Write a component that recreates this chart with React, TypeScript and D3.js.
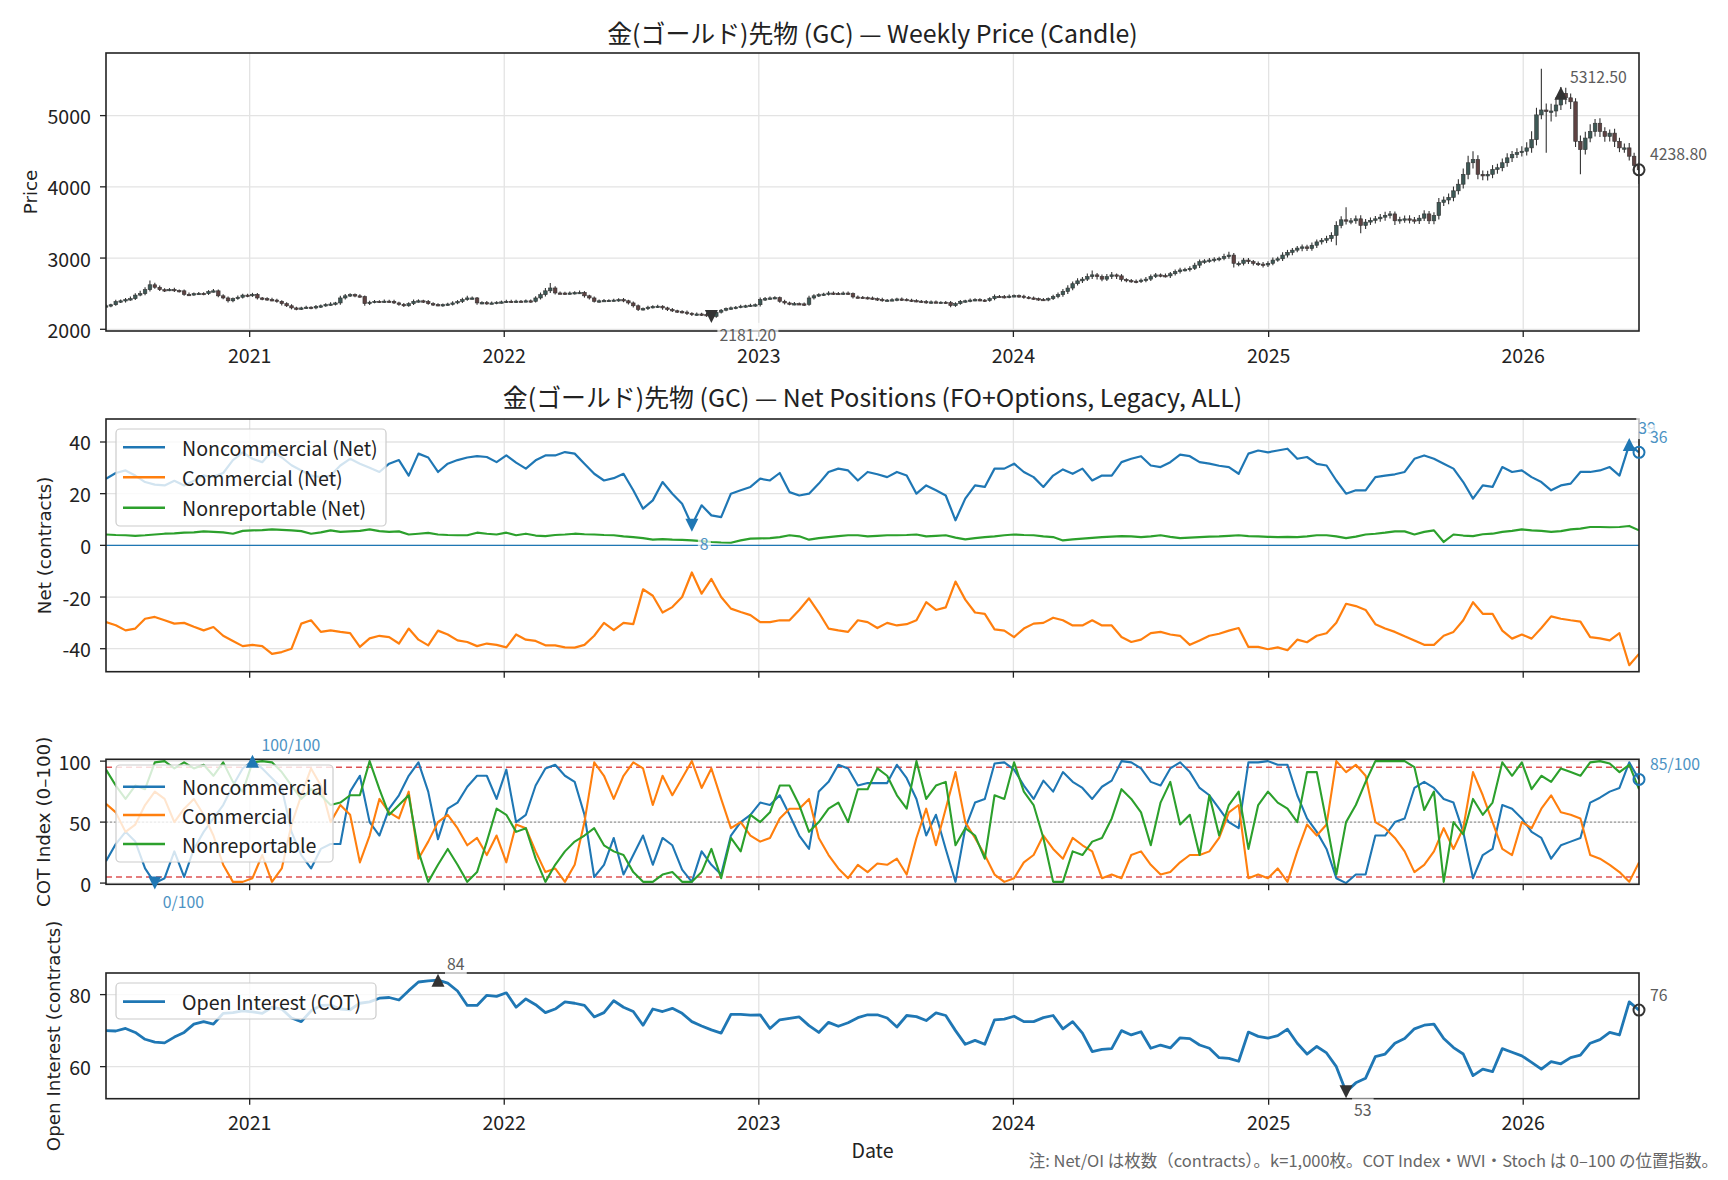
import React, { useRef, useEffect } from 'react';
import * as d3 from 'd3';

// --- DATA ---
// weekly series start on this COT report date
const START = new Date(2020, 5, 9);

// weekly closing price (315 weeks)
const priceClose = [
  2330, 2345, 2390, 2400, 2417, 2430, 2480, 2500, 2556, 2625,
  2590, 2556, 2550, 2560, 2545, 2540, 2490, 2486, 2500, 2505,
  2500, 2530, 2540, 2470, 2440, 2400, 2430, 2450, 2480, 2470,
  2490, 2440, 2430, 2417, 2410, 2393, 2360, 2330, 2300, 2290,
  2300, 2310, 2300, 2320, 2330, 2347, 2355, 2370, 2440, 2470,
  2486, 2470, 2460, 2360, 2380, 2393, 2390, 2395, 2393, 2370,
  2350, 2330, 2360, 2393, 2400, 2390, 2360, 2347, 2340, 2347,
  2355, 2370, 2390, 2417, 2440, 2440, 2370, 2375, 2365, 2370,
  2380, 2385, 2393, 2390, 2395, 2393, 2400, 2393, 2440, 2486,
  2540, 2580, 2510, 2509, 2505, 2510, 2515, 2518, 2470, 2440,
  2393, 2400, 2405, 2407, 2410, 2417, 2400, 2370, 2330, 2278,
  2290, 2310, 2320, 2324, 2300, 2278, 2260, 2250, 2241, 2225,
  2208, 2215, 2208, 2200, 2181.2, 2240, 2268, 2290, 2301, 2310,
  2324, 2330, 2338, 2345, 2417, 2430, 2440, 2445, 2393, 2370,
  2357, 2360, 2357, 2350, 2440, 2470, 2486, 2495, 2509, 2505,
  2500, 2509, 2500, 2454, 2450, 2445, 2440, 2430, 2420, 2407,
  2410, 2415, 2426, 2420, 2410, 2403, 2395, 2390, 2380, 2385,
  2380, 2380, 2375, 2333, 2360, 2393, 2400, 2410, 2417, 2410,
  2403, 2430, 2463, 2460, 2454, 2465, 2472, 2465, 2450, 2440,
  2430, 2420, 2417, 2430, 2460, 2486, 2530, 2579, 2640, 2680,
  2704, 2740, 2764, 2740, 2704, 2740, 2764, 2750, 2700, 2685,
  2675, 2671, 2690, 2704, 2740, 2764, 2755, 2750, 2780, 2810,
  2833, 2840, 2856, 2900, 2949, 2960, 2972, 2985, 2995, 3020,
  3042, 2926, 2926, 2972, 2950, 2926, 2915, 2903, 2926, 2972,
  2990, 3042, 3080, 3111, 3140, 3157, 3134, 3180, 3227, 3250,
  3273, 3319, 3458, 3537, 3520, 3523, 3551, 3458, 3505, 3530,
  3551, 3574, 3600, 3620, 3523, 3540, 3551, 3537, 3523, 3560,
  3620, 3523, 3597, 3782, 3815, 3852, 3944, 4037, 4176, 4338,
  4384, 4176, 4153, 4176, 4245, 4268, 4338, 4407, 4454, 4480,
  4500, 4547, 4662, 5010, 5079, 5056, 5065, 5149, 5312.5, 5250,
  5194, 4639, 4523, 4685, 4778, 4893, 4778, 4708, 4754, 4639,
  4547, 4547, 4430, 4300, 4238.8,
];

// upper / lower shadow beyond the candle body, in price units
const wickUp = [
  20, 15, 25, 18, 22, 30, 25, 40, 35, 60,
  30, 25, 20, 18, 22, 15, 20, 25, 18, 20,
  15, 20, 25, 18, 22, 20, 15, 25, 20, 18,
  22, 18, 15, 20, 25, 18, 15, 20, 22, 15,
  18, 20, 15, 22, 18, 20, 25, 15, 30, 25,
  20, 18, 22, 15, 20, 18, 15, 22, 18, 20,
  15, 20, 18, 25, 20, 15, 22, 18, 20, 15,
  18, 22, 20, 25, 30, 20, 15, 18, 22, 20,
  15, 18, 20, 22, 18, 15, 20, 18, 25, 30,
  40, 70, 25, 20, 18, 22, 20, 25, 18, 15,
  20, 18, 22, 15, 20, 18, 22, 15, 20, 18,
  15, 20, 18, 22, 15, 18, 20, 15, 18, 22,
  15, 20, 18, 22, 25, 20, 18, 15, 20, 18,
  22, 15, 20, 18, 30, 25, 20, 18, 15, 20,
  18, 22, 15, 20, 30, 22, 20, 18, 25, 20,
  18, 20, 22, 15, 20, 18, 15, 20, 18, 22,
  15, 20, 18, 22, 15, 18, 20, 15, 22, 18,
  20, 15, 18, 22, 20, 18, 15, 22, 18, 20,
  15, 20, 25, 18, 20, 22, 18, 15, 20, 18,
  22, 15, 20, 18, 25, 30, 35, 40, 30, 35,
  30, 45, 60, 25, 30, 35, 40, 20, 25, 18,
  20, 25, 22, 30, 28, 25, 20, 30, 25, 28,
  30, 25, 28, 35, 30, 25, 30, 28, 25, 40,
  45, 30, 25, 30, 28, 22, 25, 30, 28, 35,
  30, 40, 35, 30, 28, 35, 30, 40, 35, 30,
  40, 45, 60, 50, 176, 40, 45, 50, 45, 40,
  40, 45, 50, 40, 35, 40, 45, 50, 40, 45,
  50, 40, 45, 60, 50, 55, 60, 70, 80, 100,
  116, 60, 55, 50, 60, 55, 60, 65, 50, 60,
  70, 80, 120, 100, 578, 90, 100, 110, 90, 80,
  60, 50, 80, 90, 100, 60, 70, 60, 50, 60,
  50, 60, 70, 50, 40,
];

const wickDown = [
  18, 22, 15, 20, 25, 18, 20, 15, 22, 25,
  20, 18, 25, 15, 20, 22, 18, 20, 15, 18,
  22, 18, 15, 20, 18, 25, 20, 15, 18, 20,
  15, 20, 22, 18, 15, 20, 25, 18, 20, 22,
  20, 15, 18, 20, 22, 15, 18, 20, 25, 20,
  15, 20, 18, 30, 20, 15, 22, 18, 20, 15,
  20, 18, 15, 20, 18, 22, 15, 20, 18, 22,
  15, 20, 18, 22, 15, 20, 25, 18, 20, 15,
  20, 18, 15, 20, 22, 18, 15, 20, 18, 22,
  25, 30, 20, 18, 22, 15, 20, 18, 25, 20,
  18, 22, 15, 20, 18, 25, 20, 22, 25, 20,
  15, 20, 18, 22, 25, 20, 18, 22, 20, 25,
  20, 18, 22, 25, 30, 20, 18, 15, 20, 18,
  15, 20, 18, 22, 25, 20, 15, 18, 20, 22,
  20, 18, 15, 22, 18, 20, 15, 18, 20, 22,
  15, 18, 20, 22, 18, 15, 20, 18, 22, 20,
  18, 15, 20, 22, 18, 20, 15, 18, 22, 20,
  15, 18, 20, 25, 18, 15, 20, 22, 18, 15,
  20, 18, 22, 15, 20, 18, 15, 22, 20, 18,
  15, 20, 18, 22, 20, 25, 30, 35, 30, 25,
  30, 25, 35, 40, 30, 25, 35, 45, 30, 25,
  20, 25, 22, 30, 25, 20, 25, 22, 30, 25,
  28, 22, 30, 25, 40, 30, 25, 30, 28, 25,
  30, 60, 40, 30, 35, 30, 25, 35, 30, 28,
  25, 30, 35, 40, 30, 45, 35, 30, 40, 35,
  40, 45, 139, 40, 50, 45, 40, 111, 50, 40,
  45, 40, 50, 45, 60, 40, 45, 50, 40, 45,
  40, 45, 50, 55, 50, 60, 55, 50, 60, 70,
  80, 70, 60, 65, 55, 60, 50, 55, 60, 50,
  55, 60, 70, 80, 60, 579, 139, 80, 70, 90,
  100, 80, 347, 70, 60, 70, 80, 75, 70, 80,
  60, 70, 60, 120, 200,
];

// net positions, thousand contracts, every second week (158 points)
const netNoncomm = [
  25.8, 28, 29, 27, 24.5, 23.5, 23.2, 25, 23.2, 25,
  27, 26.5, 28, 33, 36, 33.5, 32.2, 36.5, 34, 31,
  29, 27, 26.4, 27, 30.9, 33.5, 31.6, 30, 28.4, 31.6,
  33, 27, 35.5, 34, 28.4, 31.6, 33, 34, 34.5, 34.2,
  32.2, 34.8, 32, 29.7, 32.9, 34.8, 34.8, 36.1, 35.5, 31.6,
  27.7, 25.1, 26, 27.7, 21.3, 14.2, 17.4, 24.5, 20, 16.1,
  7.8, 15.5, 11.6, 10.9, 20, 21.3, 22.6, 25.8, 25.1, 28,
  20.6, 19.3, 20, 23.9, 28.4, 29.7, 29, 25.1, 28.4, 27.5,
  26.4, 28.4, 27, 20, 23.2, 21.3, 19.3, 9.7, 18.1, 23.2,
  22.6, 29.7, 29.7, 31.6, 28.4, 26.4, 22.6, 27, 29.4, 27.7,
  29.7, 25.1, 27, 27, 32.2, 33.5, 34.5, 30.9, 30.3, 32.2,
  35.1, 34.5, 32.2, 31.6, 30.8, 30.3, 27.7, 35.5, 36.7, 36,
  36.7, 37.4, 33.5, 34.2, 31.5, 30.9, 25.1, 20, 21.3, 21.3,
  26.4, 27, 27.5, 28.4, 33.5, 34.8, 33.5, 31.6, 29.7, 24.5,
  18.1, 23.2, 22.6, 30.3, 28.4, 29, 26.4, 24.5, 21.3, 23.2,
  23.9, 28.4, 28.4, 29, 30.3, 27, 39, 36,
];

const netComm = [
  -29.7, -30.9, -32.9, -32.2, -28.4, -27.7, -29, -30.3, -30, -31.5,
  -32.9, -31.6, -35, -37, -39, -38.5, -39, -42, -41.3, -40,
  -30.3, -29, -33.5, -32.9, -33.5, -34, -39.3, -36, -35, -35.5,
  -38, -32.2, -36.5, -38.7, -33, -34.5, -36.8, -37.4, -39, -38,
  -38.5, -39.5, -34.5, -36.5, -37, -38.7, -38.7, -39.5, -39.6, -38.5,
  -35, -30, -32.8, -30, -30.5, -17, -19.5, -26, -23.9, -20,
  -10.5, -18.7, -13, -20, -24.5, -25.8, -27, -29.7, -29.7, -29,
  -29, -25, -20.5, -26, -32.2, -32.9, -33.5, -29, -29.7, -32,
  -30, -31, -30.5, -29, -22, -25, -24, -14, -21, -26,
  -26.5, -32.5, -33, -35.5, -32.2, -30.3, -30, -28, -29, -31,
  -31, -29, -31, -31, -35.5, -37.4, -36.5, -34, -33.5, -34.5,
  -35, -38.5, -36.8, -35, -34.2, -33, -32, -39.3, -39.3, -40.2,
  -39.5, -40.6, -36.5, -37.5, -35, -34, -30, -22.6, -23.5, -25,
  -30.5, -32.2, -33.5, -35.2, -36.8, -38.5, -38.5, -35, -33.5, -29,
  -22, -26.5, -26.5, -33, -36.1, -34.5, -36.1, -32, -27.5, -28.4,
  -29, -29.5, -35.5, -36, -36.8, -34, -46.4, -42,
];

const netNonrep = [
  4.2, 4.0, 3.9, 3.7, 3.9, 4.2, 4.5, 4.6, 4.9, 5.0,
  5.4, 5.2, 5.0, 4.5, 5.6, 5.8, 5.9, 6.2, 6.0, 5.8,
  5.5, 4.5, 5.0, 5.8, 5.2, 5.4, 5.6, 6.2, 5.5, 5.2,
  5.4, 4.2, 4.5, 4.8, 4.2, 4.0, 3.9, 3.9, 4.9, 4.5,
  4.2, 4.9, 3.9, 4.5, 3.8, 3.6, 4.0, 4.2, 4.5, 4.3,
  4.2, 4.0, 3.9, 3.5, 3.2, 2.8, 2.2, 2.4, 2.2, 2.1,
  1.9, 1.6, 1.3, 1.1, 1.0, 1.9, 2.6, 2.7, 2.8, 3.2,
  3.9, 3.5, 2.2, 2.8, 3.2, 3.6, 3.9, 3.9, 3.5, 3.7,
  3.9, 3.9, 4.0, 4.2, 3.5, 3.7, 3.9, 3.0, 2.3, 2.8,
  3.2, 3.5, 3.9, 4.2, 4.0, 3.9, 3.5, 3.2, 1.9, 2.3,
  2.6, 2.9, 3.2, 3.4, 3.6, 3.5, 3.2, 3.5, 3.9, 3.3,
  2.8, 3.0, 3.2, 3.4, 3.5, 3.7, 3.9, 3.6, 3.5, 3.3,
  3.2, 3.3, 3.2, 3.5, 3.9, 3.9, 3.5, 2.8, 3.4, 4.2,
  4.5, 4.9, 5.4, 5.4, 4.2, 5.2, 5.8, 1.3, 4.2, 3.8,
  3.6, 4.3, 4.5, 5.2, 5.6, 6.2, 5.8, 5.6, 5.2, 5.5,
  6.2, 6.5, 7.1, 7.1, 7.0, 7.1, 7.5, 5.8,
];

// COT index (0-100), every second week
const cotNoncomm = [
  18, 32, 42, 34, 12, 0, 4, 26, 5, 28,
  42, 53, 64, 80, 94, 100, 94, 86, 78, 42,
  23, 12, 28, 32, 32, 75, 88, 50, 39, 61,
  72, 88, 99, 75, 36, 61, 66, 79, 88, 88,
  69, 93, 50, 56, 80, 94, 97, 88, 83, 56,
  5, 15, 37, 7, 23, 39, 15, 37, 31, 11,
  1, 26, 15, 7, 39, 50, 56, 66, 64, 72,
  56, 39, 28, 75, 83, 97, 94, 80, 82, 82,
  82, 97, 86, 69, 39, 56, 28, 1, 45, 66,
  69, 98, 99, 93, 80, 69, 84, 75, 91, 83,
  78, 69, 79, 84, 100, 99, 94, 83, 80, 94,
  99, 91, 78, 72, 61, 50, 45, 99, 99, 100,
  97, 97, 72, 53, 42, 28, 4, 0, 7, 7,
  39, 39, 50, 53, 78, 83, 78, 69, 66, 42,
  4, 23, 28, 64, 61, 53, 42, 37, 20, 31,
  34, 37, 66, 70, 75, 78, 99, 85,
];

const cotComm = [
  65, 58, 42, 48, 64, 75, 69, 50, 61, 69,
  56, 39, 15, 1, 1, 4, 23, 1, 12, 48,
  72, 94, 80, 50, 64, 56, 17, 39, 69, 58,
  53, 75, 20, 34, 50, 56, 45, 31, 37, 23,
  39, 17, 48, 45, 26, 9, 12, 1, 15, 50,
  99, 88, 69, 88, 99, 94, 64, 88, 72, 86,
  100, 78, 94, 69, 45, 50, 39, 34, 37, 53,
  61, 61, 69, 37, 23, 12, 4, 15, 9, 16,
  15, 20, 7, 37, 61, 31, 61, 91, 50, 37,
  23, 7, 1, 4, 17, 23, 39, 28, 20, 37,
  31, 26, 4, 7, 4, 23, 26, 15, 7, 9,
  17, 23, 23, 26, 37, 58, 64, 4, 7, 4,
  12, 1, 26, 48, 39, 48, 100, 91, 97, 88,
  50, 45, 37, 26, 9, 15, 26, 45, 28, 45,
  91, 72, 50, 28, 23, 50, 45, 61, 72, 58,
  56, 53, 23, 20, 15, 9, 1, 17,
];

const cotNonrep = [
  93, 80, 69, 80, 77, 99, 100, 94, 99, 94,
  97, 88, 99, 83, 75, 99, 100, 99, 91, 80,
  69, 77, 72, 64, 66, 72, 72, 100, 77, 56,
  64, 72, 26, 1, 15, 28, 15, 1, 9, 34,
  61, 56, 42, 45, 20, 1, 15, 26, 34, 39,
  45, 31, 26, 23, 9, 1, 1, 7, 9, 1,
  1, 9, 28, 4, 37, 26, 56, 50, 58, 80,
  80, 64, 42, 50, 61, 66, 50, 77, 77, 94,
  88, 72, 61, 100, 69, 80, 83, 31, 45, 39,
  20, 72, 69, 99, 75, 64, 37, 1, 1, 26,
  23, 34, 37, 53, 77, 69, 58, 31, 66, 83,
  48, 56, 23, 72, 39, 64, 75, 28, 64, 75,
  66, 61, 50, 91, 91, 50, 7, 50, 64, 83,
  100, 100, 100, 100, 95, 60, 75, 1, 50, 40,
  69, 56, 66, 99, 88, 99, 77, 88, 83, 94,
  91, 88, 99, 100, 98, 91, 97, 77,
];

// open interest, thousand contracts, every second week
const openInterest = [
  70.0, 69.9, 70.6, 69.5, 67.6, 66.8, 66.6, 68.2, 69.5, 71.8,
  72.5, 71.8, 74.8, 75, 75.5, 75.2, 74.8, 76.5, 76, 73.5,
  72.5, 75.5, 77, 77.1, 76, 75.8, 77.6, 78, 79, 79.2,
  78.5, 81.1, 83.5, 83.8, 84.0, 83.2, 81, 77, 77, 79.8,
  79.5, 80.5, 76.5, 78.8, 77.2, 75, 76, 78, 77.6, 77,
  73.8, 75, 78.3, 76.5, 75.3, 71.5, 76, 75.3, 76.2, 74.8,
  72.5, 71.3, 70.2, 69.3, 74.5, 74.5, 74.3, 74.4, 70.6, 73,
  73.4, 73.8, 71.4, 69.5, 72.3, 71.2, 72.2, 73.6, 74.4, 74.4,
  73.5, 71, 74.2, 73.9, 72.8, 74.9, 74.2, 70, 66.2, 67.3,
  66.2, 73, 73.2, 74, 72.5, 72.5, 73.6, 74.2, 70.5, 72.5,
  69.3, 64.2, 64.8, 65, 70, 68.8, 69.7, 65.1, 66, 65.2,
  68, 67.8, 66, 65.1, 62.5, 62.3, 61.5, 69.6, 68.4, 67.9,
  68.6, 70.4, 66.5, 63.5, 65.6, 63.8, 60, 53.0, 55.5, 56.8,
  62.8, 63.5, 66.5, 67.8, 70.5, 71.5, 71.8, 67.8, 65.3, 63.5,
  57.5, 59.3, 58.6, 65, 64, 63, 61.2, 59.3, 61.4, 60.8,
  62.5, 63.2, 66.5, 67.5, 69.5, 68.8, 78.0, 75.7,
];

const yearTicks = [2021, 2022, 2023, 2024, 2025, 2026];
const priceTicks = [2000, 3000, 4000, 5000];
const netTicks = [-40, -20, 0, 20, 40];
const cotTicks = [0, 50, 100];
const oiTicks = [60, 80];

const TITLE_PRICE = '金(ゴールド)先物 (GC) — Weekly Price (Candle)';
const TITLE_NET = '金(ゴールド)先物 (GC) — Net Positions (FO+Options, Legacy, ALL)';
const FOOTNOTE = '注: Net/OI は枚数（contracts）。k=1,000枚。COT Index・WVI・Stoch は 0–100 の位置指数。';

const C_BLUE = '#1f77b4';
const C_ORANGE = '#ff7f0e';
const C_GREEN = '#2ca02c';
const JP = "'Noto Sans CJK JP', 'Noto Sans', sans-serif";
const DV = "'DejaVu Sans', sans-serif";
const FS = '19.6px'; // tick, legend and axis-title size

export default function App() {
  const svgRef = useRef<SVGSVGElement>(null);

  useEffect(() => {
    if (!svgRef.current) return;
    document.body.style.margin = '0';
    document.body.style.overflow = 'hidden';

    const svg = d3.select(svgRef.current);
    svg.selectAll('*').remove();

    const L = 106, R = 1639;
    const weekDates = priceClose.map((_, i) => d3.timeDay.offset(START, 7 * i));
    const biDates = netNoncomm.map((_, j) => d3.timeDay.offset(START, 14 * j));
    const yearDates = yearTicks.map(yr => new Date(yr, 0, 1));

    const x = d3.scaleTime()
      .domain([weekDates[0], weekDates[weekDates.length - 1]])
      .range([L, R]);

    const defs = svg.append('defs');
    let clipCount = 0;

    // axes frame, grid, ticks and labels for one panel
    const panel = (top: number, bottom: number, domain: [number, number], ticks: number[],
                   label: string, labelX: number, xLabels: boolean) => {
      const y = d3.scaleLinear().domain(domain).range([bottom, top]);
      const id = `clip-${clipCount++}`;
      defs.append('clipPath').attr('id', id)
        .append('rect').attr('x', L).attr('y', top).attr('width', R - L).attr('height', bottom - top);

      const grid = svg.append('g');
      grid.selectAll('line.v').data(yearDates).join('line').attr('class', 'v')
        .attr('x1', d => x(d)).attr('x2', d => x(d)).attr('y1', top).attr('y2', bottom)
        .attr('stroke', '#e3e3e3').attr('stroke-width', 1.3);
      grid.selectAll('line.h').data(ticks).join('line').attr('class', 'h')
        .attr('x1', L).attr('x2', R).attr('y1', d => y(d)).attr('y2', d => y(d))
        .attr('stroke', '#e3e3e3').attr('stroke-width', 1.3);

      const axes = svg.append('g');
      axes.selectAll('line.xt').data(yearDates).join('line').attr('class', 'xt')
        .attr('x1', d => x(d)).attr('x2', d => x(d)).attr('y1', bottom).attr('y2', bottom + 6)
        .attr('stroke', '#222').attr('stroke-width', 1.3);
      axes.selectAll('line.yt').data(ticks).join('line').attr('class', 'yt')
        .attr('x1', L - 6).attr('x2', L).attr('y1', d => y(d)).attr('y2', d => y(d))
        .attr('stroke', '#222').attr('stroke-width', 1.3);
      axes.selectAll('text.yl').data(ticks).join('text').attr('class', 'yl')
        .attr('x', 91).attr('y', d => y(d)).attr('dominant-baseline', 'central')
        .attr('text-anchor', 'end').attr('fill', '#222')
        .style('font-family', JP).style('font-size', FS)
        .text(d => String(d));
      if (xLabels) {
        axes.selectAll('text.xl').data(yearDates).join('text').attr('class', 'xl')
          .attr('x', d => x(d)).attr('y', bottom + 23).attr('dominant-baseline', 'central')
          .attr('text-anchor', 'middle').attr('fill', '#222')
          .style('font-family', JP).style('font-size', FS)
          .text(d => String(d.getFullYear()));
      }
      svg.append('text')
        .attr('transform', `translate(${labelX},${(top + bottom) / 2}) rotate(-90)`)
        .attr('text-anchor', 'middle').attr('dominant-baseline', 'central').attr('fill', '#222')
        .style('font-family', DV).style('font-size', '18.3px')
        .text(label);

      const plot = svg.append('g').attr('clip-path', `url(#${id})`);
      const frame = () => svg.append('rect')
        .attr('x', L).attr('y', top).attr('width', R - L).attr('height', bottom - top)
        .attr('fill', 'none').attr('stroke', '#222').attr('stroke-width', 1.6);
      return { y, plot, frame };
    };

    const legend = (x0: number, y0: number, w: number, h: number,
                    rows: { label: string; color: string; y: number }[], lw: number) => {
      const g = svg.append('g');
      g.append('rect').attr('x', x0).attr('y', y0).attr('width', w).attr('height', h)
        .attr('rx', 4).attr('fill', 'white').attr('fill-opacity', 0.8)
        .attr('stroke', '#cccccc').attr('stroke-width', 1.2);
      rows.forEach(r => {
        g.append('line').attr('x1', x0 + 7).attr('x2', x0 + 49).attr('y1', r.y).attr('y2', r.y)
          .attr('stroke', r.color).attr('stroke-width', lw);
        g.append('text').attr('x', x0 + 66).attr('y', r.y).attr('dominant-baseline', 'central')
          .attr('fill', '#222').style('font-family', JP).style('font-size', FS)
          .text(r.label);
      });
    };

    const title = (text: string, yPos: number) => {
      svg.append('text').attr('x', (L + R) / 2).attr('y', yPos)
        .attr('text-anchor', 'middle').attr('dominant-baseline', 'central').attr('fill', '#222')
        .style('font-family', JP).style('font-size', '24.9px')
        .text(text);
    };

    // markers and value labels sit above every frame
    const marks: (() => void)[] = [];
    const ann = () => svg.append('g');

    const triangle = (g: any, cx: number, cy: number, up: boolean, color: string) => {
      const s = 6.5;
      const pts: [number, number][] = up
        ? [[cx, cy - s], [cx + s, cy + s], [cx - s, cy + s]]
        : [[cx, cy + s], [cx + s, cy - s], [cx - s, cy - s]];
      g.append('path').attr('d', d3.line()(pts) + 'Z').attr('fill', color);
    };
    const ring = (g: any, cx: number, cy: number, color: string) => {
      g.append('circle').attr('cx', cx).attr('cy', cy).attr('r', 5.5)
        .attr('fill', 'none').attr('stroke', color).attr('stroke-width', 2);
    };
    const note = (g: any, tx: number, ty: number, text: string, color: string) => {
      const t = g.append('text').attr('x', tx).attr('y', ty).attr('dominant-baseline', 'central')
        .attr('fill', color).style('font-family', JP).style('font-size', '15.8px').text(text);
      const bb = (t.node() as SVGTextElement).getBBox();
      g.insert('rect', () => t.node()).attr('x', bb.x - 2).attr('y', bb.y)
        .attr('width', bb.width + 4).attr('height', bb.height)
        .attr('fill', 'white').attr('fill-opacity', 0.7);
    };
    const extremes = (values: number[], dates: Date[], y: any, markColor: string,
                      textColor: string, fmt: (v: number) => string) => {
      const iMax = d3.maxIndex(values);
      const iMin = d3.minIndex(values);
      const iLast = values.length - 1;
      marks.push(() => {
        const g = ann();
        triangle(g, x(dates[iMax]), y(values[iMax]), true, markColor);
        triangle(g, x(dates[iMin]), y(values[iMin]), false, markColor);
        ring(g, x(dates[iLast]), y(values[iLast]), markColor);
        note(g, x(dates[iMax]) + 9, y(values[iMax]) - 17, fmt(values[iMax]), textColor);
        note(g, x(dates[iMin]) + 8, y(values[iMin]) + 18, fmt(values[iMin]), textColor);
        note(g, x(dates[iLast]) + 11, y(values[iLast]) - 16, fmt(values[iLast]), textColor);
      });
    };

    const lineOf = (y: any) => d3.line<number>()
      .x((_, j) => x(biDates[j]))
      .y(d => y(d));

    // --- PRICE (CANDLES) ---
    title(TITLE_PRICE, 32);
    const pp = panel(53, 331, [1976, 5879], priceTicks, 'Price', 30, true);
    const candles = priceClose.map((c, i) => {
      const o = i === 0 ? c : priceClose[i - 1];
      return { date: weekDates[i], o, c, h: Math.max(o, c) + wickUp[i], l: Math.min(o, c) - wickDown[i] };
    });
    pp.plot.selectAll('line.wick').data(candles).join('line').attr('class', 'wick')
      .attr('x1', d => x(d.date)).attr('x2', d => x(d.date))
      .attr('y1', d => pp.y(d.h)).attr('y2', d => pp.y(d.l))
      .attr('stroke', '#333').attr('stroke-width', 1.1);
    pp.plot.selectAll('rect.body').data(candles).join('rect').attr('class', 'body')
      .attr('x', d => x(d.date) - 1.8).attr('width', 3.6)
      .attr('y', d => pp.y(Math.max(d.o, d.c)))
      .attr('height', d => Math.max(1.4, Math.abs(pp.y(d.o) - pp.y(d.c))))
      .attr('fill', d => (d.c >= d.o ? '#3d5855' : '#5e4242'))
      .attr('stroke', '#333').attr('stroke-width', 0.6);
    pp.frame();
    extremes(priceClose, weekDates, pp.y, '#333', '#5c5c5c', d3.format('.2f'));

    // --- NET POSITIONS ---
    title(TITLE_NET, 396);
    const np = panel(419, 671.7, [-48.9, 48.9], netTicks, 'Net (contracts)', 44, false);
    np.plot.append('line').attr('x1', L).attr('x2', R).attr('y1', np.y(0)).attr('y2', np.y(0))
      .attr('stroke', C_BLUE).attr('stroke-width', 1.3);
    [[netNoncomm, C_BLUE], [netComm, C_ORANGE], [netNonrep, C_GREEN]].forEach(([vals, col]) => {
      np.plot.append('path').attr('d', lineOf(np.y)(vals as number[]))
        .attr('fill', 'none').attr('stroke', col as string).attr('stroke-width', 2.2)
        .attr('stroke-linejoin', 'round');
    });
    legend(116, 429, 270, 97, [
      { label: 'Noncommercial (Net)', color: C_BLUE, y: 447.3 },
      { label: 'Commercial (Net)', color: C_ORANGE, y: 477.3 },
      { label: 'Nonreportable (Net)', color: C_GREEN, y: 507.7 },
    ], 2.6);
    np.frame();
    extremes(netNoncomm, biDates, np.y, C_BLUE, '#4c92c3', d3.format('.0f'));

    // --- COT INDEX ---
    const cp = panel(759.3, 884.3, [-1, 101.5], cotTicks, 'COT Index (0–100)', 43, false);
    [95, 5].forEach(v => {
      cp.plot.append('line').attr('x1', L).attr('x2', R).attr('y1', cp.y(v)).attr('y2', cp.y(v))
        .attr('stroke', '#d62728').attr('stroke-opacity', 0.8).attr('stroke-width', 1.6)
        .attr('stroke-dasharray', '6 4');
    });
    cp.plot.append('line').attr('x1', L).attr('x2', R).attr('y1', cp.y(50)).attr('y2', cp.y(50))
      .attr('stroke', '#999').attr('stroke-width', 1.3).attr('stroke-dasharray', '2 2');
    [[cotNoncomm, C_BLUE], [cotComm, C_ORANGE], [cotNonrep, C_GREEN]].forEach(([vals, col]) => {
      cp.plot.append('path').attr('d', lineOf(cp.y)(vals as number[]))
        .attr('fill', 'none').attr('stroke', col as string).attr('stroke-width', 2.1)
        .attr('stroke-linejoin', 'round');
    });
    legend(116, 765, 217, 97, [
      { label: 'Noncommercial', color: C_BLUE, y: 786.7 },
      { label: 'Commercial', color: C_ORANGE, y: 815 },
      { label: 'Nonreportable', color: C_GREEN, y: 844 },
    ], 2.6);
    cp.frame();
    extremes(cotNoncomm, biDates, cp.y, C_BLUE, '#4c92c3', v => `${d3.format('.0f')(v)}/100`);

    // --- OPEN INTEREST ---
    const op = panel(973, 1098.7, [51.1, 86.0], oiTicks, 'Open Interest (contracts)', 53, true);
    op.plot.append('path').attr('d', lineOf(op.y)(openInterest))
      .attr('fill', 'none').attr('stroke', C_BLUE).attr('stroke-width', 2.8)
      .attr('stroke-linejoin', 'round');
    legend(116, 983, 260, 36, [
      { label: 'Open Interest (COT)', color: C_BLUE, y: 1001.7 },
    ], 2.8);
    op.frame();
    extremes(openInterest, biDates, op.y, '#333', '#5c5c5c', d3.format('.0f'));

    marks.forEach(draw => draw());

    svg.append('text').attr('x', (L + R) / 2).attr('y', 1149)
      .attr('text-anchor', 'middle').attr('dominant-baseline', 'central').attr('fill', '#222')
      .style('font-family', JP).style('font-size', FS).text('Date');
    svg.append('text').attr('x', 1718).attr('y', 1160)
      .attr('text-anchor', 'end').attr('dominant-baseline', 'central').attr('fill', '#666')
      .style('font-family', JP).style('font-size', '16.5px').text(FOOTNOTE);
  }, []);

  return (
    <div style={{ width: 1728, height: 1180, background: 'white' }}>
      <svg ref={svgRef} width={1728} height={1180} style={{ display: 'block' }}></svg>
    </div>
  );
}
